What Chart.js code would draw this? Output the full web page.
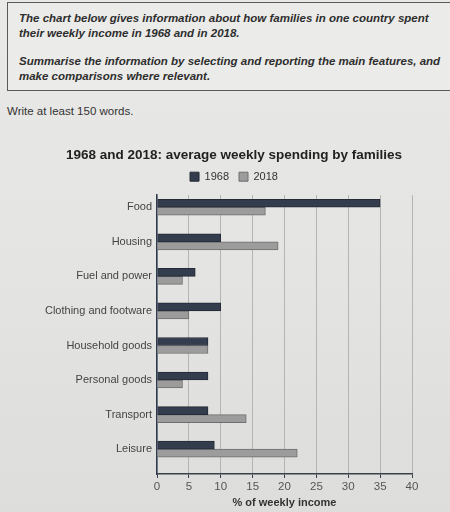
<!DOCTYPE html>
<html>
<head>
<meta charset="utf-8">
<script src="https://cdn.jsdelivr.net/npm/chart.js@4.4.1/dist/chart.umd.min.js"></script>
<style>
  html, body { margin: 0; padding: 0; }
  body {
    width: 450px; height: 512px; position: relative; overflow: hidden;
    background: linear-gradient(180deg, #e9e9e7 0%, #e3e3e1 60%, #dddddb 100%);
    font-family: "Liberation Sans", Arial, sans-serif;
  }
  .task {
    position: absolute; left: 7px; top: 2px; width: 446px; height: 89px;
    border: 1.5px solid #5a5a5a; box-sizing: border-box;
    background: #ebebe9;
    color: #2e2e2e; font-weight: bold; font-style: italic; font-size: 11.5px; line-height: 15px;
    padding: 8px 0 0 11px;
  }
  .task p { margin: 0 0 13px 0; }
  .words { position: absolute; left: 7px; top: 105px; font-size: 11.5px; color: #333; }
  #wrap { position: absolute; left: 0; top: 140px; width: 450px; height: 372px; }
</style>
</head>
<body>
<div class="task">
  <p>The chart below gives information about how families in one country spent<br>their weekly income in 1968 and in 2018.</p>
  <p>Summarise the information by selecting and reporting the main features, and<br>make comparisons where relevant.</p>
</div>
<div class="words">Write at least 150 words.</div>
<div id="wrap"><canvas id="spendChart"></canvas></div>
<script>
const categories = ["Food", "Housing", "Fuel and power", "Clothing and footware",
    "Household goods", "Personal goods", "Transport", "Leisure"];
const spending1968 = [35, 10, 6, 10, 8, 8, 8, 9];
const spending2018 = [17, 19, 4, 5, 8, 4, 14, 22];
const xTicks = [0, 5, 10, 15, 20, 25, 30, 35, 40];

// index axis is linear so the empty space under the last bar can be kept
const toPoints = values => values.map((v, i) => ({ x: v, y: i }));

// a bit more room between the legend and the plot
const legendGap = {
    id: "legendGap",
    beforeInit(chart) {
        const fit = chart.legend.fit;
        chart.legend.fit = function () {
            fit.bind(chart.legend)();
            this.height += 3;
        };
    }
};

const ctx = document.getElementById("spendChart").getContext("2d");
new Chart(ctx, {
    type: "bar",
    data: {
        datasets: [{
            label: "1968",
            data: toPoints(spending1968),
            backgroundColor: "#333d4e",
            borderColor: "#252b36",
            borderWidth: 1
        }, {
            label: "2018",
            data: toPoints(spending2018),
            backgroundColor: "#9c9c9c",
            borderColor: "#6e6e6e",
            borderWidth: 1
        }]
    },
    plugins: [legendGap],
    options: {
        indexAxis: "y",
        responsive: true,
        maintainAspectRatio: false,
        animation: false,
        barThickness: 8,
        layout: { padding: { left: 56, right: 38, top: 7, bottom: 2 } },
        plugins: {
            title: {
                display: true,
                text: "1968 and 2018: average weekly spending by families",
                color: "#222",
                font: { family: "Liberation Sans", size: 13.5, weight: "bold" },
                padding: { top: 0, bottom: -2 }
            },
            legend: {
                position: "top",
                labels: {
                    boxWidth: 9, boxHeight: 9,
                    color: "#333",
                    font: { family: "Liberation Sans", size: 11 },
                    padding: 10
                }
            },
            tooltip: { enabled: false }
        },
        scales: {
            x: {
                type: "linear",
                min: 0, max: 40,
                afterBuildTicks: axis => { axis.ticks = xTicks.map(v => ({ value: v })); },
                grid: { color: "#b4b4b2", tickColor: "#3a3f48", tickLength: 4, lineWidth: 1 },
                border: { color: "#3a3f48", width: 1.5 },
                ticks: { color: "#555", padding: 2, font: { family: "Liberation Sans", size: 11.5 } },
                title: {
                    display: true,
                    text: "% of weekly income",
                    color: "#333",
                    padding: { top: 1, bottom: 0 },
                    font: { family: "Liberation Sans", size: 11, weight: "bold" }
                }
            },
            y: {
                type: "linear",
                reverse: true,
                offset: false,
                min: -0.35, max: 7.72,
                afterBuildTicks: axis => { axis.ticks = categories.map((c, i) => ({ value: i })); },
                afterFit: axis => {
                    axis.width = 101;
                    // long labels reach past the axis box, so don't clip them
                    axis._computeLabelArea = () => undefined;
                },
                grid: { display: false, drawTicks: false, offset: false },
                border: { color: "#2e3a4e", width: 1.5 },
                ticks: {
                    color: "#444",
                    padding: 5,
                    font: { family: "Liberation Sans", size: 11 },
                    callback: v => categories[v] || ""
                }
            }
        }
    }
});
</script>
</body>
</html>
